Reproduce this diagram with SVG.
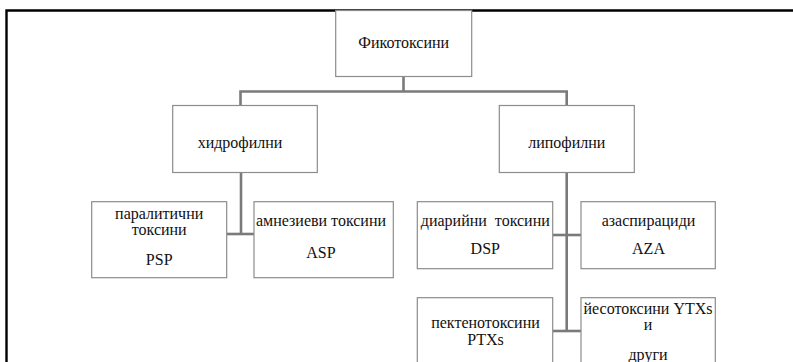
<svg xmlns="http://www.w3.org/2000/svg" width="793" height="362" viewBox="0 0 793 362">
<style>
.box{fill:#fff;stroke:#8c8c8c;stroke-width:1.2}
.t{font-family:'Liberation Serif','DejaVu Serif',serif;font-size:16px;fill:#111;text-anchor:middle}
.c{fill:none;stroke:#7a7a7a;stroke-width:2.6}
</style>
<rect x="0" y="0" width="793" height="362" fill="#fff"/>
<path d="M6.5,362 V10.5 H793" fill="none" stroke="#000" stroke-width="2.4"/>
<g id="connectors">
<path class="c" d="M403.5,76.5 V91.5"/>
<path class="c" d="M240.5,105 V91.5 H566.7 V105"/>
<path class="c" d="M241,172.5 V234"/>
<path class="c" d="M227,234 H254"/>
<path class="c" d="M566.7,172.5 V331"/>
<path class="c" d="M553,235 H581"/>
<path class="c" d="M553,331 H581"/>
</g>
<g id="root">
<rect class="box" x="335.7" y="10.5" width="136" height="66"/>
<text class="t" x="403.7" y="48">Фикотоксини</text>
</g>
<g id="hydro">
<rect class="box" x="172.7" y="105.5" width="144.6" height="67"/>
<text class="t" x="240" y="148">хидрофилни</text>
</g>
<g id="lipo">
<rect class="box" x="499.3" y="105.5" width="135" height="67"/>
<text class="t" x="566.8" y="148">липофилни</text>
</g>
<g id="psp">
<rect class="box" x="91.7" y="201.7" width="135" height="76"/>
<text class="t" x="159.2" y="219">паралитични</text>
<text class="t" x="159.2" y="235">токсини</text>
<text class="t" x="159.2" y="265">PSP</text>
</g>
<g id="asp">
<rect class="box" x="254" y="201.7" width="139.3" height="76"/>
<text class="t" x="321" y="226">амнезиеви токсини</text>
<text class="t" x="321" y="258">ASP</text>
</g>
<g id="dsp">
<rect class="box" x="417.3" y="201.7" width="135.4" height="67"/>
<text class="t" x="485.3" y="226" xml:space="preserve">диарийни  токсини</text>
<text class="t" x="485.3" y="254">DSP</text>
</g>
<g id="aza">
<rect class="box" x="581" y="201.7" width="134.3" height="67"/>
<text class="t" x="648.5" y="226">азаспирациди</text>
<text class="t" x="648.5" y="254">AZA</text>
</g>
<g id="ptx">
<rect class="box" x="417.3" y="297.7" width="135.4" height="80"/>
<text class="t" x="485.5" y="328">пектенотоксини</text>
<text class="t" x="485.5" y="345">PTXs</text>
</g>
<g id="ytx">
<rect class="box" x="581" y="297.7" width="134.3" height="80"/>
<text class="t" x="648" y="314">йесотоксини YTXs</text>
<text class="t" x="648" y="330">и</text>
<text class="t" x="648" y="360">други</text>
</g>
</svg>
